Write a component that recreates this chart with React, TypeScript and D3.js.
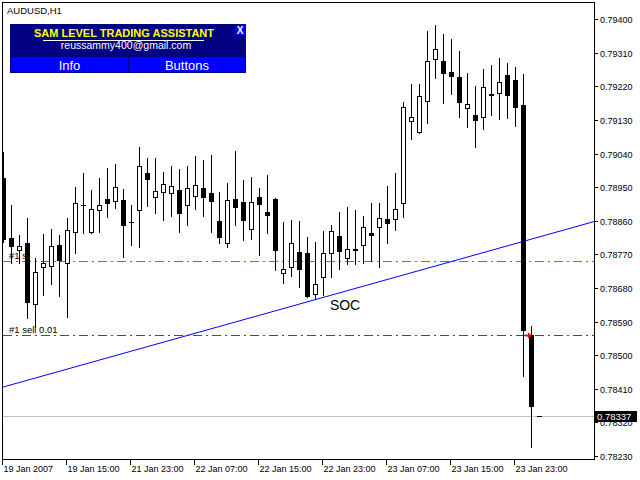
import React from 'react';
import * as d3 from 'd3';

// AUDUSD H1 bars
const opens = [
  0.78975, 0.78813, 0.78782, 0.788, 0.78637, 0.78737, 0.7874, 0.78795, 0.78746, 0.78829,
  0.78901, 0.78831, 0.78888, 0.78919, 0.78912, 0.78916, 0.78857, 0.78888, 0.78987, 0.78925,
  0.78938, 0.78934, 0.78943, 0.78901, 0.78926, 0.78948, 0.78935, 0.7886, 0.788, 0.78919,
  0.7891, 0.78839, 0.78924, 0.78884, 0.78919, 0.78721, 0.78737, 0.78777, 0.78774, 0.78663,
  0.7871, 0.78773, 0.78819, 0.7876, 0.78785, 0.78795, 0.78827, 0.78843, 0.78864, 0.78864,
  0.78907, 0.79127, 0.79099, 0.7918, 0.79293, 0.79287, 0.79259, 0.79245, 0.79162, 0.79143,
  0.79139, 0.79199, 0.79202, 0.7925, 0.79237, 0.7917, 0.78554, 0.78337,
];
const highs = [
  0.79043, 0.78902, 0.78822, 0.78867, 0.7876, 0.78825, 0.78838, 0.78822, 0.78867, 0.7895,
  0.78989, 0.78943, 0.78974, 0.79001, 0.79012, 0.78945, 0.78902, 0.79059, 0.79028, 0.79028,
  0.78991, 0.79007, 0.78999, 0.79007, 0.79034, 0.79023, 0.79037, 0.78937, 0.78962, 0.79047,
  0.78969, 0.78977, 0.78948, 0.78983, 0.78922, 0.78857, 0.78862, 0.7886, 0.78817, 0.78803,
  0.78833, 0.78848, 0.78884, 0.78897, 0.78889, 0.78873, 0.78909, 0.78909, 0.78953, 0.78987,
  0.79178, 0.79227, 0.79227, 0.79368, 0.79385, 0.79361, 0.79346, 0.79314, 0.79255, 0.79221,
  0.79266, 0.79277, 0.79295, 0.79284, 0.79271, 0.79253, 0.78578, 0.78337,
];
const lows = [
  0.78804, 0.78746, 0.78746, 0.78599, 0.78576, 0.78661, 0.78691, 0.78659, 0.78603, 0.78773,
  0.78828, 0.78828, 0.78831, 0.7887, 0.78895, 0.78763, 0.78795, 0.78791, 0.789, 0.7888,
  0.78862, 0.78873, 0.78831, 0.78849, 0.78892, 0.78873, 0.78831, 0.788, 0.78789, 0.78849,
  0.78809, 0.7881, 0.78768, 0.78828, 0.78728, 0.78694, 0.78712, 0.78683, 0.78656, 0.78653,
  0.78661, 0.78709, 0.7873, 0.78744, 0.78744, 0.78746, 0.78753, 0.78736, 0.78801, 0.78835,
  0.78871, 0.79078, 0.79096, 0.79123, 0.79243, 0.79176, 0.792, 0.79139, 0.7911, 0.79059,
  0.79107, 0.79144, 0.79134, 0.79136, 0.79114, 0.78445, 0.78255, 0.78337,
];
const closes = [
  0.78809, 0.78789, 0.78793, 0.78639, 0.78724, 0.78746, 0.78793, 0.78753, 0.78836, 0.78907,
  0.789, 0.78891, 0.78902, 0.78906, 0.7895, 0.78847, 0.78856, 0.79007, 0.78969, 0.7894,
  0.78959, 0.78953, 0.78879, 0.78948, 0.78955, 0.78922, 0.78911, 0.78815, 0.78916, 0.78893,
  0.7886, 0.7891, 0.78901, 0.78874, 0.7878, 0.7873, 0.788, 0.78728, 0.78657, 0.7869,
  0.78773, 0.78832, 0.78777, 0.78785, 0.7878, 0.78843, 0.7882, 0.78867, 0.78851, 0.78891,
  0.79164, 0.79137, 0.79193, 0.79287, 0.7932, 0.79252, 0.79246, 0.79176, 0.79172, 0.79126,
  0.79218, 0.79193, 0.79232, 0.79195, 0.79163, 0.78566, 0.78362, 0.78337,
];

const timeTickBars = [0, 8, 16, 24, 32, 40, 48, 56, 64];
const timeTickLabels = [
  '19 Jan 2007', '19 Jan 15:00', '21 Jan 23:00', '22 Jan 07:00', '22 Jan 15:00',
  '22 Jan 23:00', '23 Jan 07:00', '23 Jan 15:00', '23 Jan 23:00',
];
const priceTickLabels = [
  '0.79400', '0.79310', '0.79220', '0.79130', '0.79040', '0.78950', '0.78860',
  '0.78770', '0.78680', '0.78590', '0.78500', '0.78410', '0.78320', '0.78230',
];

const currentPrice = 0.78337;
const sellPrice = 0.78554;
const stopPrice = 0.78752;
const trendPoints = [
  { bar: 0, price: 0.78415 },
  { bar: 64, price: 0.78799 },
];
const socLabel = { bar: 40.8, price: 0.78621, text: 'SOC' };

const font = 'Liberation Sans, Arial, sans-serif';

export default function App() {
  const width = 640;
  const height = 480;
  const plot = { left: 2.5, top: 2.5, right: 594.5, bottom: 459.5 };

  const x = d3.scaleLinear().domain([0, opens.length - 1]).range([3.5, 539.5]);
  const y = d3.scaleLinear().domain([0.7823, 0.794]).range([456, 19.2]);

  const bars = opens.map((o, i) => ({ o, h: highs[i], l: lows[i], c: closes[i] }));

  // trend line extended to both plot edges
  const slope = (trendPoints[1].price - trendPoints[0].price) / (trendPoints[1].bar - trendPoints[0].bar);
  const b0 = x.invert(plot.left);
  const b1 = x.invert(plot.right);
  const trendLine = d3.line<number>()
    .x((b) => x(b))
    .y((b) => y(trendPoints[0].price + slope * (b - trendPoints[0].bar)));

  const py = (p: number) => Math.round(y(p)) + 0.5;
  const dashDot = '9,4,2,4';
  const arrowX = x(66) + 0.5;
  const arrowY = py(sellPrice);

  return (
    <>
      <style>{'body{margin:0}'}</style>
      <svg width={width} height={height} style={{ display: 'block', background: '#fff' }} fontFamily={font}>
        <defs>
          <clipPath id="plot">
            <rect x={plot.left} y={plot.top} width={plot.right - plot.left} height={plot.bottom - plot.top} />
          </clipPath>
        </defs>

        <text x={7} y={14} fontSize={9.5} fill="#000">AUDUSD,H1</text>

        <g clipPath="url(#plot)" shapeRendering="crispEdges">
          {/* order lines */}
          <line x1={plot.left} x2={plot.right} y1={py(currentPrice)} y2={py(currentPrice)} stroke="#c0c0c0" />
          <line x1={plot.left} x2={plot.right} y1={py(stopPrice)} y2={py(stopPrice)} stroke="#ff4500" strokeDasharray={dashDot} />
          <line x1={plot.left} x2={plot.right} y1={py(sellPrice)} y2={py(sellPrice)} stroke="#008000" strokeDasharray={dashDot} />
          <text x={9} y={py(stopPrice) - 2.5} fontSize={9.5} fill="#000" shapeRendering="auto">#1 sl</text>
          <text x={9} y={py(sellPrice) - 3} fontSize={9.5} fill="#000">#1 sell 0.01</text>
        </g>
        <g clipPath="url(#plot)">
          <path d={trendLine([b0, b1]) ?? ''} stroke="#0000ff" strokeWidth={1} fill="none" />
          <text x={x(socLabel.bar)} y={y(socLabel.price)} fontSize={14} fill="#000">{socLabel.text}</text>
        </g>

        {/* candles */}
        <g clipPath="url(#plot)" shapeRendering="crispEdges">
          {bars.map((d, i) => {
            const cx = x(i);
            const top = Math.round(y(Math.max(d.o, d.c)));
            const bot = Math.round(y(Math.min(d.o, d.c)));
            const bull = d.c > d.o && bot - top >= 2;
            return (
              <g key={i}>
                <line x1={cx} x2={cx} y1={Math.round(y(d.h))} y2={Math.round(y(d.l)) + 1} stroke="#000" />
                {bull ? (
                  <rect x={cx - 2} y={top + 0.5} width={4} height={bot - top} fill="#fff" stroke="#000" />
                ) : (
                  <rect x={cx - 2.5} y={top} width={5} height={Math.max(1, bot - top)} fill="#000" />
                )}
              </g>
            );
          })}
        </g>

        {/* sell arrow */}
        <path
          d={`M${arrowX},${arrowY} L${arrowX - 4},${arrowY - 3} L${arrowX - 4},${arrowY - 1} L${arrowX - 7},${arrowY - 1} L${arrowX - 7},${arrowY + 1} L${arrowX - 4},${arrowY + 1} L${arrowX - 4},${arrowY + 3} Z`}
          fill="#ff0000"
        />

        {/* frame */}
        <rect x={plot.left} y={plot.top} width={plot.right - plot.left} height={plot.bottom - plot.top} fill="none" stroke="#000" shapeRendering="crispEdges" />

        {/* price axis */}
        <g shapeRendering="crispEdges">
          {priceTickLabels.map((t) => {
            const ty = py(+t);
            return (
              <g key={t}>
                <line x1={plot.right} x2={plot.right + 3} y1={ty} y2={ty} stroke="#000" />
                <text x={600} y={ty + 3.2} fontSize={9} fill="#000">{t}</text>
              </g>
            );
          })}
        </g>
        <rect x={595} y={py(currentPrice) - 5.5} width={42} height={11} fill="#000" />
        <text x={597} y={py(currentPrice) + 3.5} fontSize={9.5} fill="#fff">{currentPrice.toFixed(5)}</text>

        {/* time axis */}
        <g shapeRendering="crispEdges">
          {timeTickBars.map((b, i) => {
            const tx = Math.floor(x(b)) - 0.5;
            return (
              <g key={b}>
                <line x1={tx} x2={tx} y1={plot.bottom} y2={plot.bottom + 5} stroke="#000" />
                <text x={tx + 1} y={471.5} fontSize={9} fill="#000">{timeTickLabels[i]}</text>
              </g>
            );
          })}
        </g>

        {/* SAM panel */}
        <g>
          <rect x={10} y={24} width={236} height={49} fill="#000080" />
          <rect x={11} y={57} width={117} height={15} fill="#0000ff" />
          <rect x={129} y={57} width={116} height={15} fill="#0000ff" />
          <rect x={235} y={26} width={10} height={9} fill="#0000ff" />
          <text x={240} y={34} fontSize={10} fontWeight="bold" fill="#fff" textAnchor="middle">X</text>
          <text x={124} y={36.5} fontSize={11} fontWeight="bold" fill="#ffff00" textAnchor="middle">SAM LEVEL TRADING ASSISTANT</text>
          <line x1={43} x2={204} y1={40.5} y2={40.5} stroke="#fff" />
          <text x={126} y={49} fontSize={10.5} fill="#fff" textAnchor="middle">reussammy400@gmail.com</text>
          <text x={69.5} y={70} fontSize={13} fill="#fff" textAnchor="middle">Info</text>
          <text x={187} y={70} fontSize={13} fill="#fff" textAnchor="middle">Buttons</text>
        </g>
      </svg>
    </>
  );
}
